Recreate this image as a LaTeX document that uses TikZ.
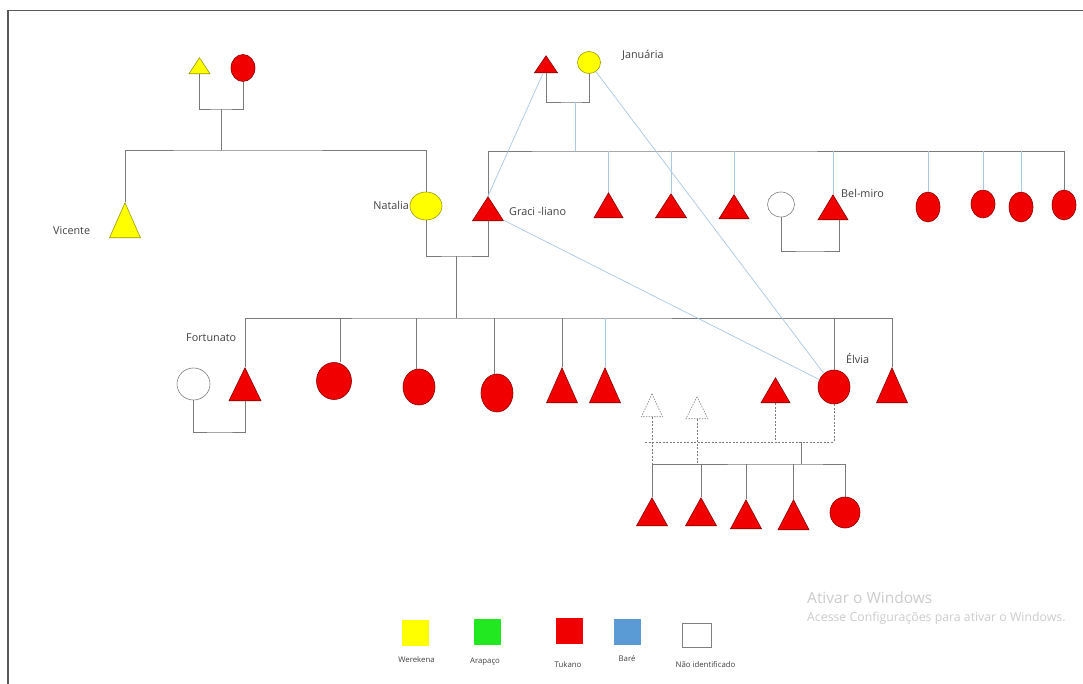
\documentclass[tikz,border=0pt]{standalone}
\usepackage{fontspec}
\setmainfont{Open Sans}
\usetikzlibrary{shapes.geometric,calc}
\definecolor{tred}{HTML}{F00000}
\definecolor{tredd}{HTML}{8B0000}
\definecolor{wyel}{HTML}{FFFF00}
\definecolor{ayel}{HTML}{9A9A00}
\definecolor{agreen}{HTML}{22E822}
\definecolor{bblue}{HTML}{5B9BD5}
\definecolor{lnk}{HTML}{7A7A7A}
\definecolor{rel}{HTML}{A9C9E6}
\begin{document}
\begin{tikzpicture}[x=1pt,y=-1pt,
  tri/.style args={#1/#2}{isosceles triangle, shape border rotate=90, isosceles triangle stretches,
     minimum width=#1pt, minimum height=#2pt, inner sep=0pt, anchor=apex, line width=0.6pt},
  circ/.style args={#1/#2}{ellipse, minimum width=#1pt, minimum height=#2pt, inner sep=0pt, line width=0.6pt},
  redf/.style={fill=tred, draw=tredd},
  yelf/.style={fill=wyel, draw=ayel},
  whf/.style={fill=white, draw=gray},
  dashf/.style={fill=white, draw=gray, dashed, dash pattern=on 1.5pt off 1.2pt},
  link/.style={draw=lnk, line width=0.8pt},
  blink/.style={draw=rel, line width=0.7pt},
  dlink/.style={draw=lnk, line width=0.8pt, dash pattern=on 2pt off 1.5pt},
  lbl/.style={font=\fontsize{10.8}{12}\selectfont, text=black!75, inner sep=0pt},
  leg/.style={minimum width=27pt, minimum height=26pt, inner sep=0pt},
  legl/.style={font=\fontsize{7.8}{9}\selectfont, text=black!75, inner sep=0pt},
]
\useasboundingbox (0,0) rectangle (1083,684);
\fill[white] (0,0) rectangle (1083,684);
% frame
\draw[draw=black!65, line width=1.3pt] (1083,10.5) -- (8,10.5) -- (8,684);

% ---- generation 1
\node[tri=21/16, yelf] (gpF) at (199.5,57) {};
\node[circ=24/27, redf] (gpM) at (243,68) {};
\node[tri=23/17, redf] (jF) at (546,55) {};
\node[circ=23/22, yelf] (jan) at (589,62.5) {};
\node[lbl, anchor=west] (janl) at (622,55) {Januária};

% ---- generation 2
\node[tri=31/35, yelf] (vic) at (125,202) {};
\node[lbl, anchor=west] (vicl) at (53,231) {Vicente};
\node[circ=32/28, yelf] (nat) at (426,206) {};
\node[lbl, anchor=east] (natl) at (409,205) {Natalia};
\node[tri=31/24, redf] (gra) at (488,196) {};
\node[lbl, anchor=west] (gral) at (509,211) {Graci -liano};
\node[tri=29/25, redf] (s2) at (608.5,192) {};
\node[tri=31/24, redf] (s3) at (671,193) {};
\node[tri=30/24, redf] (s4) at (734,194) {};
\node[circ=27/25, whf] (belw) at (781,204.5) {};
\node[tri=30/25, redf] (bel) at (833,194) {};
\node[lbl, anchor=west] (bell) at (841,193) {Bel-miro};
\node[circ=24/30, redf] (d1) at (928,207) {};
\node[circ=24/28, redf] (d2) at (983,204) {};
\node[circ=24/30, redf] (d3) at (1021,207) {};
\node[circ=24/30, redf] (d4) at (1064,205) {};

% ---- generation 3
\node[circ=33/32, whf] (fortw) at (193.5,384) {};
\node[tri=32/33, redf] (fort) at (245,367) {};
\node[lbl, anchor=west] (fortl) at (186,338) {Fortunato};
\node[circ=35/37, redf] (c1) at (334,381) {};
\node[circ=32/36, redf] (c2) at (419,387) {};
\node[circ=32/38, redf] (c3) at (497,393) {};
\node[tri=31/35, redf] (t1) at (562,367) {};
\node[tri=31/35, redf] (t2) at (605,367) {};
\node[tri=29/25, redf] (elvh) at (775.5,377) {};
\node[circ=32/34, redf] (elv) at (834,387) {};
\node[lbl, anchor=west] (elvl) at (846,359) {Élvia};
\node[tri=31/35, redf] (tr) at (892,367) {};
\node[tri=21/23, dashf] (dt1) at (652,393) {};
\node[tri=22/22, dashf] (dt2) at (697,396) {};

% ---- generation 4
\node[tri=31/28, redf] (k1) at (652,497) {};
\node[tri=31/28, redf] (k2) at (701,497) {};
\node[tri=31/29, redf] (k3) at (746,499) {};
\node[tri=31/30, redf] (k4) at (793.5,499) {};
\node[circ=30/31, redf] (k5) at (845,512.5) {};

% ---- junction coordinates
\coordinate (cpl1) at (221,109);
\coordinate (sib1) at (221,150);
\coordinate (cpl2) at (456,256);
\coordinate (sib2) at (456,318);
\coordinate (cpl3) at (220,432);
\coordinate (cpl4) at (575,102);
\coordinate (sib3) at (575,151);
\coordinate (cpl5) at (810,251);
\coordinate (dh) at (801,442);
\coordinate (kl) at (801,464);

% ---- connectors
\draw[link] (gpF.lower side) |- (cpl1) -| (gpM.south);
\draw[link] (cpl1) -- (sib1);
\draw[link] (vic.apex) |- (sib1) -| (nat.north);
\draw[link] (nat.south) |- (cpl2) -| (gra.lower side);
\draw[link] (cpl2) -- (sib2);
\draw[link] (fort.apex) |- (sib2) -| (tr.apex);
\draw[link] ([xshift=6pt]c1.north) -- ([xshift=6pt]c1.north |- sib2);
\draw[link] ([xshift=-3pt]c2.north) -- ([xshift=-3pt]c2.north |- sib2);
\draw[link] ([xshift=-3pt]c3.north) -- ([xshift=-3pt]c3.north |- sib2);
\draw[link] (t1.apex) -- (t1.apex |- sib2);
\draw[blink] (t2.apex) -- (t2.apex |- sib2);
\draw[link] (elv.north) -- (elv.north |- sib2);
\draw[link] (fortw.south) |- (cpl3) -| (fort.lower side);
\draw[link] (jF.lower side) |- (cpl4) -| (jan.south);
\draw[blink] (cpl4) -- (sib3);
\draw[link] (gra.apex) |- (sib3) -| (d4.north);
\foreach \n in {s2,s3,s4,bel}{\draw[blink] (\n.apex) -- (\n.apex |- sib3);}
\foreach \n in {d1,d2,d3}{\draw[blink] (\n.north) -- (\n.north |- sib3);}
\draw[link] (belw.south) |- (cpl5) -| ([xshift=6pt]bel.lower side);
% relation lines
\draw[blink] (jF) -- (gra.apex);
\draw[blink] (jan) -- (elv);
\draw[blink] (gra) -- (elv);
% dashed family
\draw[dlink] (dt1.lower side) -- (dt1.lower side |- kl);
\draw[dlink] (dt2.lower side) -- (dt2.lower side |- kl);
\draw[dlink] (elvh.lower side) -- (elvh.lower side |- dh);
\draw[dlink] (elv.south) -- (elv.south |- dh);
\draw[dlink] ([xshift=-7pt]dt1.lower side |- dh) -- (elv.south |- dh);
\draw[link] (dh) -- (kl);
\draw[link] (k1.apex) |- (kl) -| (k5.north);
\foreach \n in {k2,k3,k4}{\draw[link] (\n.apex) -- (\n.apex |- kl);}

% ---- legend
\node[leg, fill=wyel] (lg1) at (415.5,633) {};
\node[leg, fill=agreen] (lg2) at (487,631.5) {};
\node[leg, fill=tred] (lg3) at (569,631) {};
\node[leg, fill=bblue] (lg4) at (627,631.5) {};
\node[leg, draw=gray, line width=0.8pt, fill=white, minimum width=29pt, minimum height=24pt] (lg5) at (696.5,635) {};
\node[legl] (lg1l) at (416.5,660) {Werekena};
\node[legl] (lg2l) at (485,662) {Arapaço};
\node[legl] (lg3l) at (568,665) {Tukano};
\node[legl] (lg4l) at (627,659) {Baré};
\node[legl] (lg5l) at (705.5,665) {Não identificado};

% ---- watermark
\node[anchor=west, inner sep=0pt, text=black!20, font=\fontsize{15.5}{17}\selectfont] (wm1) at (807,598) {Ativar o Windows};
\node[anchor=west, inner sep=0pt, text=black!20, font=\fontsize{12.3}{14}\selectfont] (wm2) at (807,618) {Acesse Configurações para ativar o Windows.};
\end{tikzpicture}
\end{document}
